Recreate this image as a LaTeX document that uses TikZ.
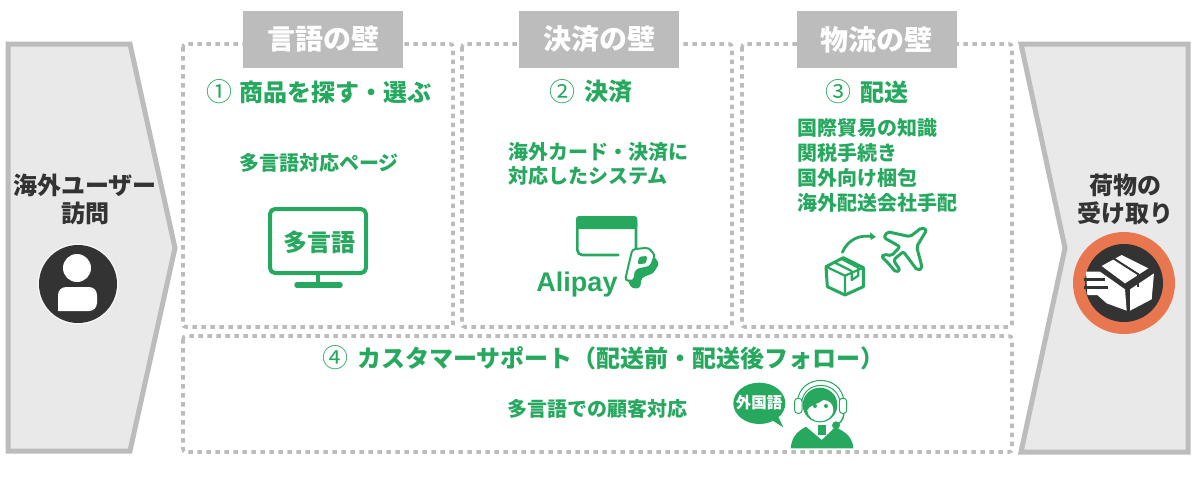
\documentclass[tikz,border=0pt]{standalone}
\usepackage{fontspec}
\setmainfont{Noto Sans CJK JP}
\newfontfamily\latinf{Liberation Sans}
\definecolor{grn}{HTML}{27A85F}
\definecolor{wallgray}{HTML}{BCBCBC}
\definecolor{panel}{HTML}{E9E9E9}
\definecolor{dark}{HTML}{333333}
\definecolor{orng}{HTML}{E8764F}
\tikzset{
  fs/.style={font=\fontsize{#1}{#1}\selectfont\bfseries},
  txt/.style={inner sep=0pt,outer sep=0pt},
  dotbox/.style={draw=wallgray,line width=3.6pt,dash pattern=on 4.5pt off 4.5pt,rounded corners=3pt},
  arrowshape/.style={draw=wallgray,fill=panel,line width=5pt,line join=miter},
  wall/.style={fill=wallgray,minimum width=160pt,minimum height=57pt,inner sep=0pt,text=white,fs=28},
  head/.style={txt,text=grn,fs=24},
  body/.style={txt,text=grn,fs=20},
  dark label/.style={txt,text=dark,fs=24},
  num/.style={txt,text=grn,font=\fontsize{26}{26}\selectfont},
  icon/.style={draw=grn,line width=3.6pt,line join=round,line cap=round},
  thinicon/.style={draw=grn,line width=2.8pt,line join=round,line cap=round}
}
\begin{document}
\begin{tikzpicture}[x=1pt,y=-1pt]
\useasboundingbox (0,0) rectangle (1200,493);
% end shapes
\draw[arrowshape] (8,44) -- (130,44) -- (175,248) -- (130,451) -- (8,451) -- cycle;
\draw[arrowshape] (1021,44) -- (1188,44) -- (1188,452) -- (1021,452) -- (1065,248) -- cycle;
% dotted panels
\draw[dotbox] (183,44) rectangle (453,327);
\draw[dotbox] (462,44) rectangle (732,327);
\draw[dotbox] (742,44) rectangle (1012,327);
\draw[dotbox] (183,336) rectangle (1012,452);
% wall labels
\node[wall] (w1) at (323,39.5) {言語の壁};
\node[wall] (w2) at (599,39.5) {決済の壁};
\node[wall] (w3) at (876.5,39.5) {物流の壁};
% headings
\node[num] (n1) at (219,92) {①};
\node[head,anchor=west] (h1) at (239,92) {商品を探す・選ぶ};
\node[num] (n2) at (562,92) {②};
\node[head,anchor=west] (h2) at (584,92) {決済};
\node[num] (n3) at (838,92) {③};
\node[head,anchor=west] (h3) at (860,92) {配送};
\node[num] (n4) at (335,358) {④};
\node[head,anchor=west] (h4) at (357,358) {カスタマーサポート（配送前・配送後フォロー）};
% body text
\node[body,anchor=west] (t1) at (239,163) {多言語対応ページ};
\node[body,anchor=west,align=left,font=\fontsize{20}{24.5}\selectfont\bfseries] (t2) at (508,164) {海外カード・決済に\\対応したシステム};
\node[body,anchor=north west,align=left,font=\fontsize{20}{25}\selectfont\bfseries] (t3) at (797,118) {国際貿易の知識\\関税手続き\\国外向け梱包\\海外配送会社手配};
\node[body,anchor=west] (t4) at (507,409) {多言語での顧客対応};
% left
\node[dark label,align=center,font=\fontsize{24}{28}\selectfont\bfseries] (lt) at (85,199) {海外ユーザー\\訪問};
\fill[white!60!panel] (78,284) circle (40.5);
\fill[dark] (78,284) circle (39);
\fill[white] (77,268) circle (14);
\fill[white,rounded corners=8pt] (58,311) -- (58,287) -- (97,287) -- (97,311) [sharp corners] -- cycle;
% right
\node[dark label,align=center,font=\fontsize{24}{28}\selectfont\bfseries] (rt) at (1125,199) {荷物の\\受け取り};
\fill[orng] (1124,283) circle (51);
\fill[dark] (1124,283) circle (39);
\begin{scope}[shift={(1010,30)},scale=1/3]
  \fill[white] (335,675) -- (415,715) -- (345,760) -- (275,708) -- cycle;
  \fill[white] (228,725) -- (270,725) -- (345,778) -- (350,842) -- (290,820) -- (262,795) -- (232,795) -- cycle;
  \fill[white] (360,778) -- (432,730) -- (425,808) -- (360,842) -- cycle;
  \draw[dark,line width=2.6pt] (222,748) -- (285,748) (222,772) -- (295,772);
  \draw[dark,line width=2pt] (310,685) -- (385,733);
  \draw[dark,line width=2pt] (385,733) -- (385,770);
\end{scope}
% monitor
\draw[icon,rounded corners=5pt,line width=4pt] (270,209) rectangle (366,273);
\draw[icon,line width=4pt] (318,274) -- (318,285);
\draw[icon,line width=5.5pt] (297,285) -- (340,285);
\node[txt,text=grn,fs=24] (m) at (319,242) {多言語};
% card and P
\begin{scope}[shift={(520,205)},scale=1/3]
  \draw[grn,line width=2.6pt,line join=round,line cap=round,rounded corners=5pt] (295,150) -- (172,150) -- (172,37) -- (348,37) -- (348,130);
  \fill[grn,rounded corners=3pt] (168,33) rectangle (352,72);
  \fill[grn,rounded corners=3pt] (345,148) -- (395,145) -- (418,175) -- (400,205) -- (365,218) -- (360,250) -- (335,250) -- (322,225) -- cycle;
  \draw[grn,fill=white,line width=2pt,line join=round,rounded corners=3pt] (337,133) -- (385,128) -- (405,150) -- (392,185) -- (348,195) -- (342,228) -- (315,226) -- cycle;
  \fill[grn,rounded corners=1.5pt] (358,155) -- (382,153) -- (378,175) -- (352,178) -- cycle;
\end{scope}
\node[txt,text=grn,font=\latinf\fontsize{27}{27}\selectfont\bfseries] (ali) at (577,285) {Alipay};
% parcel and plane
\begin{scope}[shift={(810,215)},scale=1/3]
  \draw[thinicon,line width=3pt] (100,128) -- (48,155) -- (52,215) -- (105,240) -- (160,215) -- (160,158) -- cycle;
  \draw[thinicon,line width=2.2pt] (48,155) -- (105,182) -- (160,158) (105,182) -- (105,240);
  \draw[thinicon,line width=2.2pt] (75,143) -- (125,168) (95,132) -- (145,158) (125,168) -- (125,195) -- (145,182) -- (145,158);
  \draw[thinicon] (97,112) .. controls (115,72) and (150,58) .. (188,65);
  \fill[grn] (198,66) -- (180,52) -- (182,75) -- cycle;
  \draw[thinicon,line width=3pt,rounded corners=2pt] (350,45) -- (320,95) -- (337,160) -- (322,166) -- (280,110) -- (250,135) -- (270,165) -- (258,172) -- (235,145) -- (215,125) -- (222,118) -- (245,122) -- (270,95) -- (222,68) -- (232,50) -- (300,65) -- (335,38) -- cycle;
\end{scope}
% operator
\begin{scope}[shift={(700,370)},scale=1/3]
  \fill[grn] (178,100) ellipse (78 and 62);
  \fill[grn] (215,150) -- (250,172) -- (225,120) -- cycle;
  \fill[grn] (272,235) .. controls (275,195) and (300,180) .. (318,170) -- (365,210) -- (405,172) .. controls (440,185) and (458,205) .. (460,235) -- cycle;
  \fill[white] (335,150) -- (385,150) -- (385,190) -- (365,205) -- (340,185) -- cycle;
  \fill[grn] (353,165) rectangle (378,195);
  \draw[grn,line width=1pt] (292,95) .. controls (300,10) and (425,10) .. (432,95);
  \draw[grn,line width=1pt] (305,95) .. controls (315,30) and (410,30) .. (420,95);
  \fill[grn] (360,105) circle (52);
  \fill[white] (322,120) .. controls (325,165) and (395,165) .. (400,120) .. controls (400,100) and (385,90) .. (370,90) .. controls (350,105) and (330,105) .. (322,120) -- cycle;
  \fill[grn] (345,108) circle (6) (378,108) circle (6);
  \draw[grn,fill=white,line width=1pt,rounded corners=3pt] (284,85) rectangle (306,130);
  \draw[grn,fill=white,line width=1pt,rounded corners=3pt] (418,85) rectangle (440,130);
  \draw[grn,line width=1.4pt] (432,130) .. controls (430,150) and (420,160) .. (408,165);
  \fill[grn] (408,166) circle (12);
\end{scope}
\node[txt,text=white,fs=15.5] (fg) at (759,403) {外国語};
\end{tikzpicture}
\end{document}
